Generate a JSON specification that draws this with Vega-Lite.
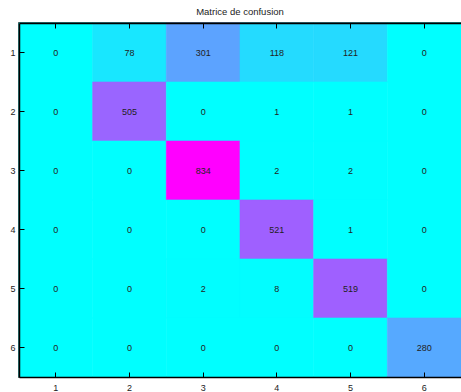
{
  "$schema": "https://vega.github.io/schema/vega-lite/v6.json",
  "width": 442,
  "height": 354,
  "autosize": {"type": "none"},
  "padding": {"left": 19, "top": 23, "right": 0, "bottom": 15},
  "background": "white",
  "config": {"view": {"stroke": "black", "strokeWidth": 1.5}, "font": "Liberation Sans"},
  "title": {"text": "Matrice de confusion", "fontSize": 9.5, "fontWeight": "normal", "color": "#222", "anchor": "middle", "offset": 6, "font": "Liberation Sans"},
  "data": {"values": [
    {"r":"1","c":"1","v":0},{"r":"1","c":"2","v":78},{"r":"1","c":"3","v":301},{"r":"1","c":"4","v":118},{"r":"1","c":"5","v":121},{"r":"1","c":"6","v":0},
    {"r":"2","c":"1","v":0},{"r":"2","c":"2","v":505},{"r":"2","c":"3","v":0},{"r":"2","c":"4","v":1},{"r":"2","c":"5","v":1},{"r":"2","c":"6","v":0},
    {"r":"3","c":"1","v":0},{"r":"3","c":"2","v":0},{"r":"3","c":"3","v":834},{"r":"3","c":"4","v":2},{"r":"3","c":"5","v":2},{"r":"3","c":"6","v":0},
    {"r":"4","c":"1","v":0},{"r":"4","c":"2","v":0},{"r":"4","c":"3","v":0},{"r":"4","c":"4","v":521},{"r":"4","c":"5","v":1},{"r":"4","c":"6","v":0},
    {"r":"5","c":"1","v":0},{"r":"5","c":"2","v":0},{"r":"5","c":"3","v":2},{"r":"5","c":"4","v":8},{"r":"5","c":"5","v":519},{"r":"5","c":"6","v":0},
    {"r":"6","c":"1","v":0},{"r":"6","c":"2","v":0},{"r":"6","c":"3","v":0},{"r":"6","c":"4","v":0},{"r":"6","c":"5","v":0},{"r":"6","c":"6","v":280}
  ]},
  "resolve": {"axis": {"x": "independent"}},
  "layer": [
    {"mark": {"type": "rect", "strokeWidth": 0.6},
     "encoding": {
       "x": {"field": "c", "type": "ordinal", "scale": {"paddingInner": 0, "paddingOuter": 0},
         "axis": {"title": null, "orient": "top", "zindex": 1, "labels": false, "domainColor": "black", "domainWidth": 1.5, "tickColor": "black", "tickWidth": 1, "tickSize": -5}},
       "y": {"field": "r", "type": "ordinal", "scale": {"paddingInner": 0, "paddingOuter": 0},
         "axis": {"title": null, "zindex": 1, "domainColor": "black", "domainWidth": 1.5, "tickColor": "black", "tickWidth": 1, "tickSize": -5, "labelPadding": 9, "labelFontSize": 9, "labelColor": "#222", "labelFont": "Liberation Sans"}},
       "color": {"field": "v", "type": "quantitative", "scale": {"domain": [0, 834], "range": ["#00ffff", "#ff00ff"], "interpolate": "rgb"}, "legend": null},
       "stroke": {"field": "v", "type": "quantitative", "scale": {"domain": [0, 834], "range": ["#00ffff", "#ff00ff"], "interpolate": "rgb"}, "legend": null}}},
    {"mark": {"type": "text", "fontSize": 9, "color": "#222", "font": "Liberation Sans"},
     "encoding": {
       "x": {"field": "c", "type": "ordinal", "axis": {"title": null, "orient": "bottom", "zindex": 1, "labelAngle": 0, "domainColor": "black", "domainWidth": 1.5, "tickColor": "black", "tickWidth": 1, "tickSize": -5, "labelPadding": 11, "labelFontSize": 9, "labelColor": "#222", "labelFont": "Liberation Sans"}},
       "y": {"field": "r", "type": "ordinal"},
       "text": {"field": "v", "type": "quantitative"}}}
  ]
}
